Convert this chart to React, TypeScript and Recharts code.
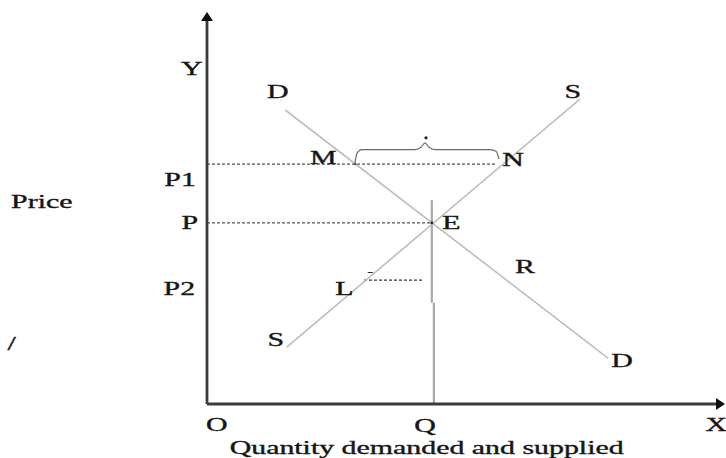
import React from "react";
import { LineChart, Line, XAxis, YAxis, ReferenceLine, ReferenceDot } from "recharts";

// Demand and supply schedules (quantity q, price p), diagram units 0..100
const demand = [
  { q: 15.1, p: 75.0 },
  { q: 77.4, p: 11.7 },
];
const supply = [
  { q: 15.4, p: 14.5 },
  { q: 72.0, p: 77.8 },
];
const equilibriumQ = 43.4;
const equilibriumP = 46.2;
const priceP1 = 61.2;
const priceP2 = 31.6;
const qM = 28.6;
const qN = 55.6;
const qL = [30.3, 41.9];
const splitP = 25.8;
const qLower = 43.8;

// Brace over the surplus M..N
const brace = [
  { q: 28.57, p: 61.5 },
  { q: 28.96, p: 64.0 },
  { q: 29.92, p: 64.9 },
  { q: 40.15, p: 64.9 },
  { q: 41.31, p: 65.5 },
  { q: 42.08, p: 66.6 },
  { q: 42.86, p: 65.5 },
  { q: 44.02, p: 64.9 },
  { q: 54.63, p: 64.9 },
  { q: 55.79, p: 64.5 },
  { q: 56.37, p: 62.5 },
];
const braceDot = { q: 42.28, p: 67.9 };

// Text labels in diagram units
const labels = [
  { t: "Y", q: -2.95, p: 85.5 },
  { t: "D", q: 13.65, p: 79.7 },
  { t: "S", q: 70.6, p: 79.7 },
  { t: "M", q: 22.45, p: 62.9 },
  { t: "N", q: 59.1, p: 62.4 },
  { t: "E", q: 47.2, p: 46.1 },
  { t: "P1", q: -5.2, p: 57.1 },
  { t: "Price", q: -31.9, p: 51.6 },
  { t: "P", q: -3.3, p: 46.1 },
  { t: "R", q: 61.4, p: 34.9 },
  { t: "P2", q: -5.35, p: 29.5 },
  { t: "L", q: 26.5, p: 29.3 },
  { t: "S", q: 13.3, p: 16.5 },
  { t: "D", q: 80.1, p: 11.0 },
  { t: "/", q: -37.7, p: 15.3 },
  { t: "O", q: 1.87, p: -5.4 },
  { t: "Q", q: 42.1, p: -5.5 },
  { t: "X", q: 98.3, p: -5.4 },
  { t: "Quantity demanded and supplied", q: 42.4, p: -11.1 },
];
const tinyMark = { t: "-", q: 31.5, p: 33.7 };

const FONT = "'Liberation Serif', 'Times New Roman', serif";
const SX = 1.66;

const makeText = (t: string, size = 18) => (props: any) => (
  <text
    transform={`translate(${props.cx},${props.cy}) scale(${SX},1)`}
    textAnchor="middle"
    dominantBaseline="central"
    fontFamily={FONT}
    fontSize={size}
    fill="#161616"
    stroke="#161616"
    strokeWidth={0.35}
  >
    {t}
  </text>
);

const upArrow = (props: any) => (
  <polygon
    points={`${props.cx},${props.cy} ${props.cx - 6},${props.cy + 9} ${props.cx + 6},${props.cy + 9}`}
    fill="#111"
  />
);
const rightArrow = (props: any) => (
  <polygon
    points={`${props.cx},${props.cy} ${props.cx - 9},${props.cy - 6} ${props.cx - 9},${props.cy + 6}`}
    fill="#111"
  />
);

export default function App() {
  return (
    <div style={{ position: "absolute", left: 0, top: 0, background: "#fff" }}>
      <LineChart
        width={726}
        height={458}
        margin={{ top: 12, right: 1, bottom: 54, left: 207 }}
      >
        <XAxis dataKey="q" type="number" domain={[0, 100]} hide allowDataOverflow />
        <YAxis dataKey="p" type="number" domain={[0, 100]} hide allowDataOverflow />

        {/* dashed guides */}
        <ReferenceLine
          segment={[{ x: 0, y: priceP1 }, { x: qN, y: priceP1 }]}
          stroke="#555"
          strokeWidth={1.1}
          strokeDasharray="3 2"
        />
        <ReferenceLine
          segment={[{ x: 0, y: equilibriumP }, { x: equilibriumQ, y: equilibriumP }]}
          stroke="#555"
          strokeWidth={1.1}
          strokeDasharray="3 2"
        />
        <ReferenceLine
          segment={[{ x: qL[0], y: priceP2 }, { x: qL[1], y: priceP2 }]}
          stroke="#333"
          strokeWidth={1.1}
          strokeDasharray="3 2"
        />

        {/* vertical Q line */}
        <ReferenceLine
          segment={[{ x: equilibriumQ, y: 52.0 }, { x: equilibriumQ, y: splitP }]}
          stroke="#a8a8a8"
          strokeWidth={2.2}
        />
        <ReferenceLine
          segment={[{ x: qLower, y: splitP }, { x: qLower, y: 0 }]}
          stroke="#a8a8a8"
          strokeWidth={2.2}
        />

        <Line
          data={demand}
          dataKey="p"
          stroke="#bdbdbd"
          strokeWidth={1.6}
          dot={false}
          isAnimationActive={false}
        />
        <Line
          data={supply}
          dataKey="p"
          stroke="#bdbdbd"
          strokeWidth={1.6}
          dot={false}
          isAnimationActive={false}
        />
        <Line
          data={brace}
          dataKey="p"
          type="monotone"
          stroke="#6a6a6a"
          strokeWidth={1.2}
          dot={false}
          isAnimationActive={false}
        />

        {/* axes */}
        <ReferenceLine
          segment={[{ x: 0, y: 0 }, { x: 0, y: 98 }]}
          stroke="#3a3a3a"
          strokeWidth={2.8}
          ifOverflow="visible"
        />
        <ReferenceLine
          segment={[{ x: 0, y: 0 }, { x: 98.5, y: 0 }]}
          stroke="#3a3a3a"
          strokeWidth={2.8}
          ifOverflow="visible"
        />
        <ReferenceDot x={0} y={100} r={0} shape={upArrow} ifOverflow="visible" />
        <ReferenceDot x={100} y={0} r={0} shape={rightArrow} ifOverflow="visible" />

        <ReferenceDot x={braceDot.q} y={braceDot.p} r={1.6} fill="#222" stroke="none" />
        <ReferenceDot x={equilibriumQ} y={equilibriumP} r={1.3} fill="#222" stroke="none" />
        <ReferenceDot x={qM} y={priceP1} r={1.2} fill="#444" stroke="none" />

        {labels.map((l, i) => (
          <ReferenceDot
            key={i}
            x={l.q}
            y={l.p}
            r={0}
            ifOverflow="visible"
            shape={makeText(l.t)}
          />
        ))}
        <ReferenceDot
          x={tinyMark.q}
          y={tinyMark.p}
          r={0}
          ifOverflow="visible"
          shape={makeText(tinyMark.t, 10)}
        />
      </LineChart>
    </div>
  );
}
